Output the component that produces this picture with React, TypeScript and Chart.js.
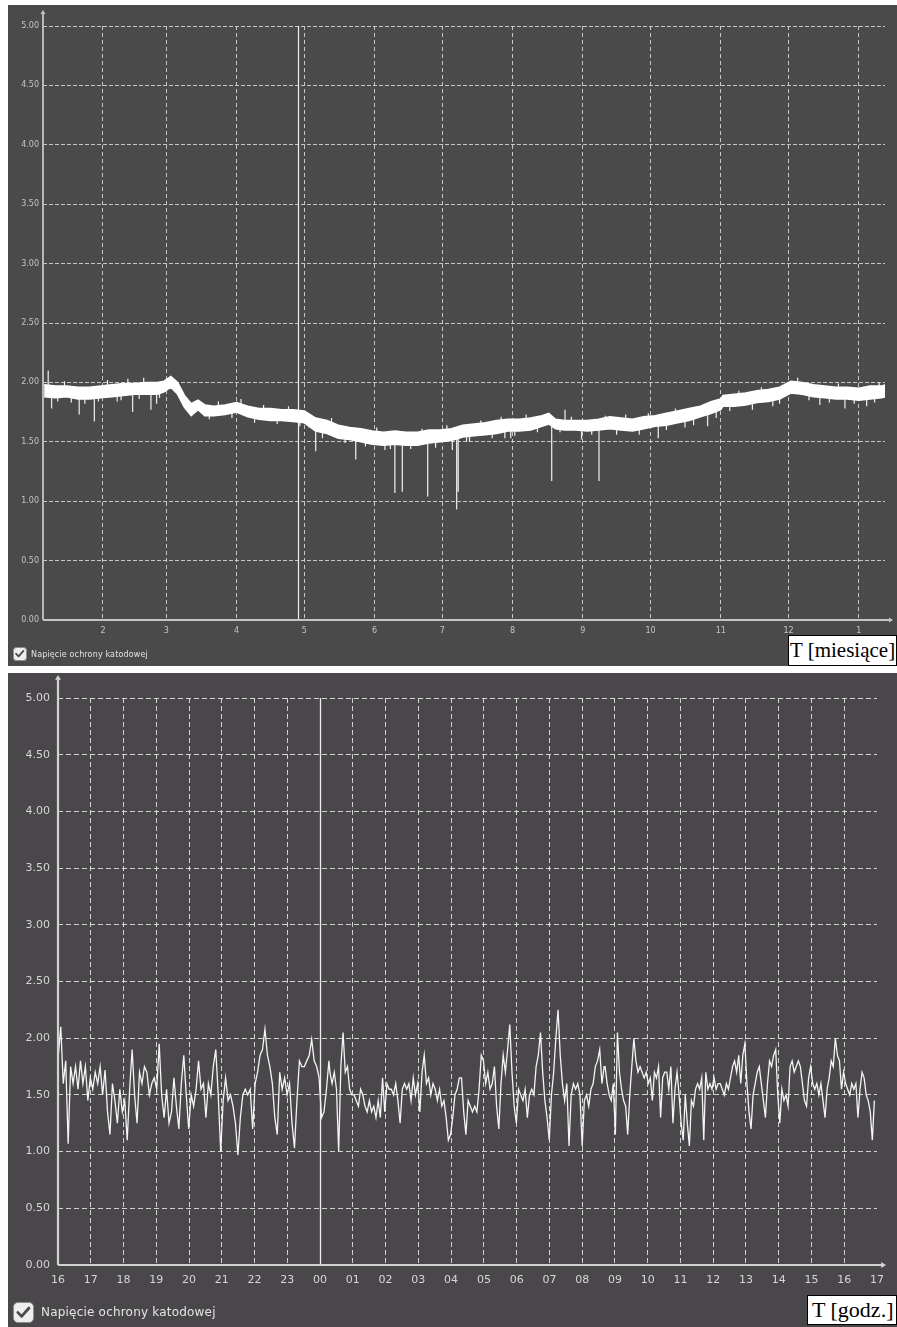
import React, { useEffect, useRef } from "react";
import { Chart, registerables } from "chart.js";

Chart.register(...registerables);

// ---------- TOP CHART DATA (yearly, x = day of year) ----------
const SERIES_LABEL = "Napięcie ochrony katodowej";
const MONTH_TICK_DAYS = [31, 59, 90, 120, 151, 181, 212, 243, 273, 304, 334, 365];
const MONTH_LABELS = ["2", "3", "4", "5", "6", "7", "8", "9", "10", "11", "12", "1"];
const TOP_CURSOR_DAY = 117.2;

const BAND_DAYS = [
  5, 10, 15, 20, 25, 30, 35, 40, 45, 50,
  55, 58, 61, 64, 67, 70, 73, 76, 80, 85,
  90, 95, 100, 105, 110, 115, 120, 125, 130, 135,
  140, 145, 150, 155, 160, 165, 170, 175, 180, 185,
  190, 195, 200, 205, 210, 215, 220, 225, 228, 231,
  235, 240, 245, 250, 255, 260, 265, 270, 275, 280,
  285, 290, 295, 300, 304, 305, 310, 315, 320, 325,
  330, 335, 340, 345, 350, 355, 360, 365, 370, 375,
  377,
];
const BAND_UPPER = [
  1.98, 1.97, 1.97, 1.96, 1.96, 1.97, 1.98, 1.99, 1.99, 2.0,
  2.0, 2.01, 2.05, 2.0, 1.89, 1.82, 1.85, 1.81, 1.8, 1.81,
  1.83, 1.8, 1.78, 1.78, 1.77, 1.77, 1.76, 1.7, 1.68, 1.64,
  1.62, 1.61, 1.59, 1.58, 1.59, 1.58, 1.58, 1.6, 1.6, 1.61,
  1.64, 1.65, 1.66, 1.68, 1.69, 1.69, 1.7, 1.72, 1.74, 1.69,
  1.68, 1.68, 1.68, 1.69, 1.71, 1.7, 1.69, 1.71, 1.72, 1.74,
  1.76, 1.78, 1.8, 1.84, 1.86, 1.89, 1.9, 1.91, 1.93, 1.94,
  1.96, 2.01, 2.0, 1.98, 1.97, 1.96, 1.96, 1.95, 1.97, 1.97,
  1.98,
];
const BAND_LOWER = [
  1.88, 1.87, 1.88, 1.86, 1.86, 1.87, 1.88, 1.89, 1.9, 1.9,
  1.9, 1.92, 1.96, 1.9, 1.79, 1.72, 1.77, 1.72, 1.72, 1.73,
  1.75, 1.71, 1.69, 1.68, 1.68, 1.67, 1.66, 1.59, 1.57, 1.53,
  1.52, 1.5, 1.48, 1.47, 1.48, 1.47, 1.47, 1.49, 1.5, 1.51,
  1.54, 1.55, 1.56, 1.57, 1.59, 1.59, 1.6, 1.63, 1.65, 1.61,
  1.6, 1.6, 1.59, 1.6, 1.61, 1.6, 1.59, 1.61, 1.63, 1.64,
  1.66, 1.68, 1.71, 1.74, 1.77, 1.8, 1.8, 1.81, 1.83, 1.84,
  1.86, 1.91, 1.9, 1.88, 1.87, 1.86, 1.86, 1.85, 1.86, 1.87,
  1.88,
];

// large isolated spikes
const SPIKE_DAYS = [
  6.8, 8.3, 20.5, 27.2, 37.3, 44.1, 52.2, 54.7, 125, 142.7,
  155.6, 160, 163.3, 174.5, 185.4, 187.3, 188, 191.7, 208.6, 211.2,
  229.3, 235.2, 242.5, 250.2, 276.4, 288.2, 298.2, 327, 347.8, 358.9,
  368.5,
];
const SPIKE_BASE = [
  1.93, 1.92, 1.91, 1.91, 1.93, 1.94, 1.95, 1.95, 1.64, 1.56,
  1.52, 1.53, 1.52, 1.54, 1.56, 1.57, 1.57, 1.59, 1.63, 1.64,
  1.68, 1.64, 1.64, 1.64, 1.67, 1.72, 1.75, 1.89, 1.92, 1.91,
  1.91,
];
const SPIKE_TIP = [
  2.1, 1.78, 1.73, 1.67, 1.84, 1.75, 1.77, 1.82, 1.42, 1.35,
  1.43, 1.07, 1.08, 1.04, 1.43, 0.93, 1.08, 1.5, 1.53, 1.53,
  1.17, 1.77, 1.52, 1.17, 1.53, 1.62, 1.63, 1.8, 1.81, 1.78,
  1.8,
];

// small noise ticks at the edges of the band
const FRINGE_DAYS = [
  11, 14, 17, 23, 29, 33, 39, 42, 47, 49, 56,
  66, 78, 82, 88, 92, 98, 102, 108, 113, 118,
  122, 128, 132, 138, 147, 152, 158, 167, 172, 178, 183,
  193, 198, 203, 207, 213, 218, 223, 233, 238, 247, 253,
  258, 262, 268, 272, 280, 284, 292, 302, 308, 312, 318, 322, 330, 338, 343, 352, 356, 363, 372, 374,
];
const FRINGE_BASE = [
  1.925, 1.92, 1.92, 1.91, 1.915, 1.925, 1.94, 1.94, 1.945, 1.95, 1.955,
  1.86, 1.765, 1.765, 1.78, 1.78, 1.745, 1.735, 1.725, 1.72, 1.715,
  1.69, 1.64, 1.61, 1.58, 1.55, 1.535, 1.53, 1.525, 1.53, 1.55, 1.555,
  1.59, 1.6, 1.615, 1.63, 1.64, 1.645, 1.66, 1.65, 1.64, 1.64, 1.655,
  1.655, 1.65, 1.655, 1.665, 1.69, 1.705, 1.735, 1.79, 1.85, 1.855, 1.87, 1.885, 1.91, 1.955, 1.94, 1.92, 1.91, 1.905, 1.915, 1.92,
];
const FRINGE_TIP = [
  1.84, 2.01, 1.83, 1.82, 1.84, 2.02, 1.85, 2.03, 1.86, 2.04, 1.87,
  1.83, 1.69, 1.84, 1.7, 1.86, 1.66, 1.81, 1.65, 1.8, 1.63,
  1.62, 1.53, 1.7, 1.49, 1.46, 1.62, 1.44, 1.44, 1.61, 1.45, 1.64,
  1.5, 1.68, 1.53, 1.71, 1.55, 1.73, 1.58, 1.58, 1.71, 1.56, 1.72,
  1.56, 1.73, 1.56, 1.74, 1.6, 1.78, 1.64, 1.7, 1.76, 1.93, 1.77, 1.96, 1.82, 2.04, 1.85, 1.83, 1.99, 1.82, 1.83, 2.0,
];

// ---------- BOTTOM CHART DATA (daily, x = hours since 16:00) ----------
const HOUR_LABELS = [
  "16", "17", "18", "19", "20", "21", "22", "23", "00", "01", "02", "03", "04",
  "05", "06", "07", "08", "09", "10", "11", "12", "13", "14", "15", "16", "17",
];
const BOTTOM_CURSOR_HOUR = 8;

const SEG1_RANGE = [0.01, 8.27];
const SEG1 = [
  1.85, 2.1, 1.6, 1.8, 1.07, 1.75, 1.6, 1.75, 1.55, 1.8,
  1.6, 1.75, 1.45, 1.65, 1.55, 1.7, 1.6, 1.75, 1.5, 1.72,
  1.35, 1.15, 1.6, 1.45, 1.25, 1.55, 1.35, 1.45, 1.1, 1.55,
  1.9, 1.5, 1.25, 1.7, 1.6, 1.75, 1.7, 1.5, 1.6, 1.65,
  1.55, 1.95, 1.5, 1.3, 1.55, 1.25, 1.35, 1.65, 1.4, 1.2,
  1.6, 1.85, 1.5, 1.2, 1.5, 1.4, 1.55, 1.8, 1.55, 1.6,
  1.3, 1.6, 1.5, 1.75, 1.9, 1.5, 1.0, 1.45, 1.65, 1.45,
  1.5, 1.4, 1.25, 0.97, 1.3, 1.5, 1.55, 1.5, 1.55, 1.2,
  1.6, 1.7, 1.85, 1.9, 2.08, 1.85, 1.75, 1.6, 1.3, 1.15,
  1.7, 1.55, 1.65, 1.5, 1.6, 1.25, 1.03, 1.45, 1.8, 1.75,
  1.75, 1.8, 1.85, 1.99, 1.8, 1.75, 1.65, 1.3, 1.35, 1.55,
  1.8,
];
const SEG2_RANGE = [8.3, 16.67];
const SEG2 = [
  1.7, 1.6, 1.7, 1.55, 1.0, 1.75, 2.05, 1.7, 1.75, 1.55,
  1.5, 1.5, 1.45, 1.4, 1.55, 1.5, 1.4, 1.35, 1.45, 1.35,
  1.4, 1.3, 1.45, 1.3, 1.65, 1.35, 1.6, 1.55, 1.55, 1.5,
  1.6, 1.45, 1.25, 1.55, 1.6, 1.55, 1.6, 1.45, 1.65, 1.5,
  1.6, 1.35, 1.7, 1.85, 1.6, 1.65, 1.5, 1.6, 1.55, 1.45,
  1.55, 1.4, 1.45, 1.3, 1.1, 1.15, 1.3, 1.5, 1.55, 1.65,
  1.65, 1.35, 1.15, 1.45, 1.4, 1.35, 1.4, 1.35, 1.55, 1.85,
  1.8, 1.6, 1.7, 1.55, 1.6, 1.75, 1.4, 1.2, 1.6, 1.85,
  1.7, 1.9, 2.12, 1.7, 1.4, 1.25, 1.55, 1.5, 1.45, 1.55,
  1.3, 1.5, 1.55, 1.5, 1.75, 1.85, 2.05, 1.7, 1.45, 1.3,
  1.1, 1.5, 1.7, 2.0, 2.25, 1.85, 1.6, 1.45, 1.6, 1.05,
  1.5, 1.6, 1.55, 1.6, 1.5, 1.05, 1.45, 1.5, 1.4, 1.55,
  1.6, 1.75, 1.8, 1.9, 1.6, 1.75,
];
const SEG3_RANGE = [16.7, 24.92];
const SEG3 = [
  1.75, 1.6, 1.5, 1.45, 1.6, 1.15, 2.05, 1.7, 1.55, 1.45,
  1.4, 1.15, 1.5, 1.75, 2.0, 1.8, 1.7, 1.75, 1.7, 1.65,
  1.7, 1.6, 1.65, 1.45, 1.7, 1.65, 1.75, 1.3, 1.65, 1.7,
  1.7, 1.55, 1.75, 1.25, 1.55, 1.7, 1.5, 1.25, 1.1, 1.5,
  1.25, 1.05, 1.45, 1.4, 1.55, 1.6, 1.55, 1.65, 1.1, 1.7,
  1.55, 1.6, 1.55, 1.65, 1.55, 1.6, 1.6, 1.55, 1.5, 1.6,
  1.55, 1.65, 1.75, 1.8, 1.7, 1.85, 1.6, 1.85, 1.95, 1.6,
  1.35, 1.2, 1.5, 1.6, 1.7, 1.75, 1.6, 1.45, 1.3, 1.6,
  1.8, 1.75, 1.85, 1.9, 1.5, 1.25, 1.55, 1.45, 1.5, 1.4,
  1.75, 1.8, 1.7, 1.75, 1.8, 1.75, 1.6, 1.45, 1.4, 1.65,
  1.75, 1.6, 1.55, 1.6, 1.5, 1.6, 1.45, 1.3, 1.55, 1.65,
  1.8, 1.75, 2.0, 1.85, 1.8, 1.55, 1.7, 1.6, 1.55, 1.5,
  1.6, 1.55, 1.6, 1.3, 1.55, 1.7, 1.65, 1.5, 1.45, 1.35,
  1.1, 1.45,
];

// ---------- helpers ----------
const TRANSPARENT = "rgba(0,0,0,0)";

function segPoints(vals: number[], range: number[]) {
  const [h0, h1] = range;
  return vals.map((v, i) => ({ x: h0 + ((h1 - h0) * i) / (vals.length - 1), y: v }));
}

function tickSegments(days: number[], base: number[], tip: number[]) {
  const pts: { x: number; y: number | null }[] = [];
  days.forEach((d, i) => {
    pts.push({ x: d, y: base[i] });
    pts.push({ x: d, y: tip[i] });
    pts.push({ x: d, y: null });
  });
  return pts;
}

function drawCheckLegend(
  ctx: CanvasRenderingContext2D,
  x: number,
  y: number,
  size: number,
  gap: number,
  text: string,
  font: string,
  color: string,
  spacing: string
) {
  ctx.save();
  ctx.fillStyle = "#eeeeee";
  ctx.strokeStyle = "#8c8c8c";
  ctx.lineWidth = 1;
  ctx.beginPath();
  (ctx as any).roundRect(x + 0.5, y + 0.5, size, size, size * 0.22);
  ctx.fill();
  ctx.stroke();
  ctx.strokeStyle = "#4b4b4b";
  ctx.lineWidth = Math.max(1.5, size * 0.14);
  ctx.lineCap = "round";
  ctx.lineJoin = "round";
  ctx.beginPath();
  ctx.moveTo(x + size * 0.24, y + size * 0.52);
  ctx.lineTo(x + size * 0.43, y + size * 0.72);
  ctx.lineTo(x + size * 0.8, y + size * 0.3);
  ctx.stroke();
  ctx.fillStyle = color;
  ctx.font = font;
  (ctx as any).letterSpacing = spacing;
  ctx.textBaseline = "middle";
  ctx.textAlign = "left";
  ctx.fillText(text, x + size + gap, y + size / 2 + 1);
  ctx.restore();
}

type DecorCfg = {
  cursor: number;
  cursorColor: string;
  cursorWidth: number;
  axisColor: string;
  axisWidth: number;
  yExtra: number;
  xExtra: number;
  arrow: number;
  legend: { x: number; y: number; size: number; gap: number; font: string; color: string; spacing: string };
};

function makeDecor(cfg: DecorCfg) {
  return {
    id: "decor",
    beforeDatasetsDraw(chart: any) {
      const { ctx, chartArea: a, scales } = chart;
      const cx = Math.round(scales.x.getPixelForValue(cfg.cursor)) + 0.5;
      ctx.save();
      ctx.strokeStyle = cfg.cursorColor;
      ctx.lineWidth = cfg.cursorWidth;
      ctx.beginPath();
      ctx.moveTo(cx, a.top);
      ctx.lineTo(cx, a.bottom);
      ctx.stroke();
      ctx.restore();
    },
    afterDraw(chart: any) {
      const { ctx, chartArea: a } = chart;
      ctx.save();
      ctx.strokeStyle = cfg.axisColor;
      ctx.fillStyle = cfg.axisColor;
      ctx.lineWidth = cfg.axisWidth;
      const left = Math.round(a.left);
      const bottom = Math.round(a.bottom);
      const topTip = a.top - cfg.yExtra;
      const rightTip = a.right + cfg.xExtra;
      ctx.beginPath();
      ctx.moveTo(left, bottom);
      ctx.lineTo(left, topTip + 2);
      ctx.moveTo(left, bottom);
      ctx.lineTo(rightTip - 2, bottom);
      ctx.stroke();
      const s = cfg.arrow;
      ctx.beginPath();
      ctx.moveTo(left, topTip);
      ctx.lineTo(left - s, topTip + s * 1.6);
      ctx.lineTo(left + s, topTip + s * 1.6);
      ctx.closePath();
      ctx.fill();
      ctx.beginPath();
      ctx.moveTo(rightTip, bottom);
      ctx.lineTo(rightTip - s * 1.6, bottom - s);
      ctx.lineTo(rightTip - s * 1.6, bottom + s);
      ctx.closePath();
      ctx.fill();
      ctx.restore();
      const L = cfg.legend;
      drawCheckLegend(ctx, L.x, L.y, L.size, L.gap, chart.data.datasets[0].label, L.font, L.color, L.spacing);
    },
  };
}

function topConfig(): any {
  const GRID = "rgba(212,212,212,0.9)";
  const TICK = "#c4c4c4";
  const font = { family: "DejaVu Sans", size: 8 };
  return {
    type: "line",
    data: {
      datasets: [
        {
          label: SERIES_LABEL,
          data: BAND_DAYS.map((d, i) => ({ x: d, y: BAND_UPPER[i] })),
          borderColor: "#ffffff",
          borderWidth: 1.5,
          pointRadius: 0,
          fill: false,
          tension: 0,
        },
        {
          label: "min",
          data: BAND_DAYS.map((d, i) => ({ x: d, y: BAND_LOWER[i] })),
          borderColor: "#ffffff",
          backgroundColor: "#ffffff",
          borderWidth: 1.5,
          pointRadius: 0,
          fill: "-1",
          tension: 0,
        },
        {
          label: "noise",
          data: tickSegments(FRINGE_DAYS, FRINGE_BASE, FRINGE_TIP),
          borderColor: "#f2f2f2",
          borderWidth: 1.2,
          pointRadius: 0,
          fill: false,
          spanGaps: false,
        },
        {
          label: "spikes",
          data: tickSegments(SPIKE_DAYS, SPIKE_BASE, SPIKE_TIP),
          borderColor: "#e4e4e4",
          borderWidth: 1.3,
          pointRadius: 0,
          fill: false,
          spanGaps: false,
        },
      ],
    },
    options: {
      animation: false,
      responsive: false,
      events: [],
      layout: { padding: { top: 21, right: 12, left: 0, bottom: 0 } },
      plugins: { legend: { display: false }, tooltip: { enabled: false } },
      scales: {
        x: {
          type: "linear",
          min: 4.5,
          max: 376.6,
          afterBuildTicks: (scale: any) => {
            scale.ticks = MONTH_TICK_DAYS.map((v) => ({ value: v }));
          },
          afterFit: (scale: any) => {
            scale.height = 46;
          },
          ticks: {
            autoSkip: false,
            maxRotation: 0,
            padding: 6,
            color: TICK,
            font,
            callback: (v: number) => {
              const i = MONTH_TICK_DAYS.indexOf(v);
              return i >= 0 ? MONTH_LABELS[i] : "";
            },
          },
          grid: { color: GRID, lineWidth: 1, drawTicks: false },
          border: { display: false, dash: [4, 3] },
        },
        y: {
          min: 0,
          max: 5,
          afterFit: (scale: any) => {
            scale.width = 35;
          },
          ticks: {
            stepSize: 0.5,
            padding: 4,
            color: TICK,
            font,
            callback: (v: number) => Number(v).toFixed(2),
          },
          grid: {
            color: (c: any) => (c.tick && c.tick.value === 0 ? TRANSPARENT : GRID),
            lineWidth: 1,
            drawTicks: false,
          },
          border: { display: false, dash: [4, 2] },
        },
      },
    },
    plugins: [
      makeDecor({
        cursor: TOP_CURSOR_DAY,
        cursorColor: "#f0f0f0",
        cursorWidth: 1.2,
        axisColor: "#c4c4c4",
        axisWidth: 1.8,
        yExtra: 16,
        xExtra: 8,
        arrow: 2.5,
        legend: {
          x: 5,
          y: 642,
          size: 13,
          gap: 5,
          font: "8px 'DejaVu Sans'",
          color: "#e2e2e2",
          spacing: "0.15px",
        },
      }),
    ],
  };
}

function bottomConfig(): any {
  const GRID = "rgba(222,222,222,0.92)";
  const TICK = "#d6d6d6";
  const font = { family: "DejaVu Sans", size: 11 };
  const data = [
    ...segPoints(SEG1, SEG1_RANGE),
    ...segPoints(SEG2, SEG2_RANGE),
    ...segPoints(SEG3, SEG3_RANGE),
  ];
  return {
    type: "line",
    data: {
      datasets: [
        {
          label: SERIES_LABEL,
          data,
          borderColor: "#f4f4f4",
          borderWidth: 1.3,
          pointRadius: 0,
          fill: false,
          tension: 0,
        },
      ],
    },
    options: {
      animation: false,
      responsive: false,
      events: [],
      layout: { padding: { top: 25, right: 20, left: 0, bottom: 0 } },
      plugins: { legend: { display: false }, tooltip: { enabled: false } },
      scales: {
        x: {
          type: "linear",
          min: 0,
          max: 25,
          afterFit: (scale: any) => {
            scale.height = 62;
          },
          ticks: {
            stepSize: 1,
            autoSkip: false,
            maxRotation: 0,
            padding: 9,
            color: TICK,
            font,
            callback: (v: number) => HOUR_LABELS[v] ?? "",
          },
          grid: {
            color: (c: any) =>
              c.tick && (c.tick.value === 0 || c.tick.value === 25) ? TRANSPARENT : GRID,
            lineWidth: 1,
            drawTicks: false,
          },
          border: { display: false, dash: [5, 3] },
        },
        y: {
          min: 0,
          max: 5,
          afterFit: (scale: any) => {
            scale.width = 50;
          },
          ticks: {
            stepSize: 0.5,
            padding: 8,
            color: TICK,
            font,
            callback: (v: number) => Number(v).toFixed(2),
          },
          grid: {
            color: (c: any) => (c.tick && c.tick.value === 0 ? TRANSPARENT : GRID),
            lineWidth: 1,
            drawTicks: false,
          },
          border: { display: false, dash: [5, 3] },
        },
      },
    },
    plugins: [
      makeDecor({
        cursor: BOTTOM_CURSOR_HOUR,
        cursorColor: "#ededed",
        cursorWidth: 1.3,
        axisColor: "#d2d2d2",
        axisWidth: 2.2,
        yExtra: 23,
        xExtra: 9,
        arrow: 3,
        legend: {
          x: 5,
          y: 629,
          size: 20,
          gap: 8,
          font: "12px 'DejaVu Sans'",
          color: "#e4e4e4",
          spacing: "0.2px",
        },
      }),
    ],
  };
}

export default function App() {
  const topRef = useRef<HTMLCanvasElement>(null);
  const botRef = useRef<HTMLCanvasElement>(null);

  useEffect(() => {
    const c1 = new Chart(topRef.current as HTMLCanvasElement, topConfig());
    const c2 = new Chart(botRef.current as HTMLCanvasElement, bottomConfig());
    return () => {
      c1.destroy();
      c2.destroy();
    };
  }, []);

  const boxStyle: React.CSSProperties = {
    position: "absolute",
    boxSizing: "border-box",
    border: "1px solid #000",
    background: "#fff",
    color: "#000",
    fontFamily: "'Liberation Serif', 'Times New Roman', serif",
    whiteSpace: "nowrap",
    overflow: "hidden",
  };

  return (
    <div
      style={{
        position: "absolute",
        left: 0,
        top: 0,
        width: 897,
        height: 1327,
        background: "#fff",
        overflow: "hidden",
      }}
    >
      <div style={{ position: "absolute", left: 8, top: 5, width: 889, height: 661, background: "#4a4a4a" }}>
        <canvas ref={topRef} width={889} height={661} style={{ display: "block" }} />
      </div>
      <div style={{ position: "absolute", left: 8, top: 673, width: 889, height: 654, background: "#4a474b" }}>
        <canvas ref={botRef} width={889} height={654} style={{ display: "block" }} />
      </div>
      <div
        style={{
          ...boxStyle,
          left: 788,
          top: 635,
          width: 109,
          height: 31,
          fontSize: 21,
          lineHeight: "28px",
          paddingLeft: 1,
        }}
      >
        T [miesiące]
      </div>
      <div
        style={{
          ...boxStyle,
          left: 807,
          top: 1295,
          width: 90,
          height: 30,
          fontSize: 22,
          lineHeight: "27px",
          paddingLeft: 4,
        }}
      >
        T [godz.]
      </div>
    </div>
  );
}
